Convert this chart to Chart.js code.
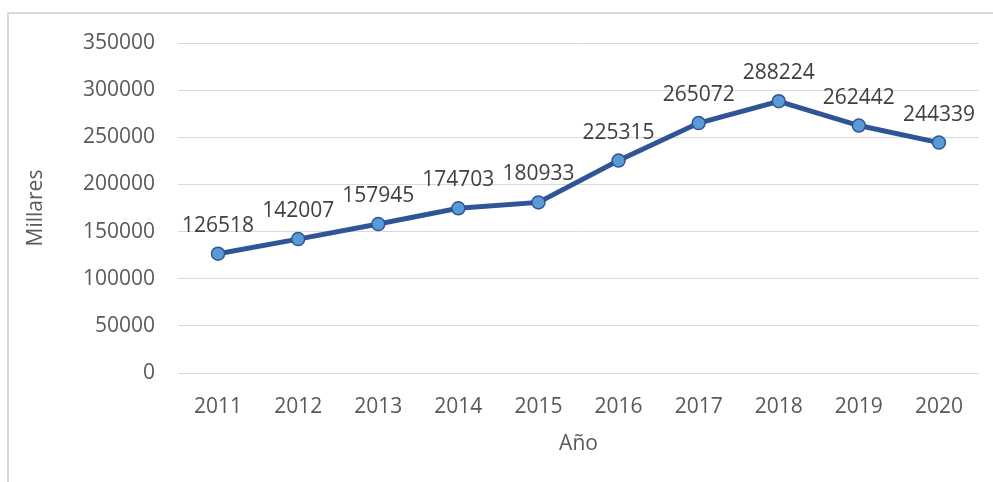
<!DOCTYPE html>
<html>
<head>
<meta charset="utf-8">
<script src="https://cdn.jsdelivr.net/npm/chart.js@4"></script>
<style>
  html, body { margin: 0; padding: 0; background: #fff; overflow: hidden; }
  #wrap { position: relative; width: 993px; height: 482px; }
  #frame {
    position: absolute; left: 7px; top: 12px; width: 1100px; height: 600px;
    border: 2px solid #d9d9d9; box-sizing: border-box;
  }
  canvas { position: absolute; left: 0; top: 0; }
</style>
</head>
<body>
<div id="wrap">
  <div id="frame"></div>
  <canvas id="chart" width="993" height="482"></canvas>
</div>
<script>
Chart.defaults.font.family = "'Open Sans', sans-serif";
Chart.defaults.font.size = 21;
Chart.defaults.color = "#595959";

const years = ["2011", "2012", "2013", "2014", "2015", "2016", "2017", "2018", "2019", "2020"];
const millares = [126518, 142007, 157945, 174703, 180933, 225315, 265072, 288224, 262442, 244339];

const yMin = 0;
const yMax = 350000;
const yStep = 50000;

// value labels above each point
const pointLabels = {
  id: "pointLabels",
  afterDatasetsDraw(chart) {
    const ctx = chart.ctx;
    const meta = chart.getDatasetMeta(0);
    ctx.save();
    ctx.font = "21px 'Open Sans', sans-serif";
    ctx.fillStyle = "#404040";
    ctx.textAlign = "center";
    ctx.textBaseline = "alphabetic";
    meta.data.forEach((pt, i) => {
      ctx.fillText(String(millares[i]), pt.x, pt.y - 22);
    });
    ctx.restore();
  }
};

new Chart(document.getElementById("chart"), {
  type: "line",
  data: {
    labels: years,
    datasets: [{
      data: millares,
      borderColor: "#2F5597",
      borderWidth: 5,
      pointRadius: 6.5,
      pointHoverRadius: 6.5,
      pointBackgroundColor: "#5B9BD5",
      pointBorderColor: "#2F5597",
      pointBorderWidth: 1.5,
      tension: 0,
      fill: false
    }]
  },
  options: {
    responsive: false,
    animation: false,
    layout: { padding: { top: 43, right: 14, bottom: 0, left: 0 } },
    plugins: {
      legend: { display: false },
      tooltip: { enabled: false }
    },
    scales: {
      x: {
        offset: true,
        grid: { display: false, drawTicks: false },
        border: { display: false },
        ticks: { padding: 21, maxRotation: 0 },
        title: {
          display: true,
          text: "Año",
          padding: { top: 0, bottom: 25 }
        },
        afterFit(scale) { scale.height = 109; }
      },
      y: {
        min: yMin,
        max: yMax,
        grid: { color: "#d9d9d9", lineWidth: 1, drawTicks: false },
        border: { display: false },
        ticks: {
          stepSize: yStep,
          padding: 23,
          callback: v => String(v)
        },
        title: {
          display: true,
          text: "Millares",
          padding: { top: 23, bottom: 0 }
        },
        afterFit(scale) { scale.width = 178; }
      }
    }
  },
  plugins: [pointLabels]
});
</script>
</body>
</html>
